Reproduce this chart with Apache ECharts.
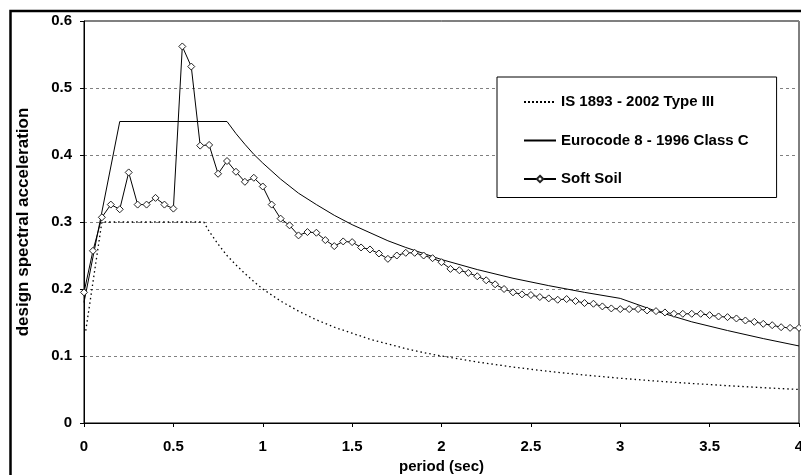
<!DOCTYPE html>
<html>
<head>
<meta charset="utf-8">
<script src="https://cdn.jsdelivr.net/npm/echarts@6/dist/echarts.min.js"></script>
<style>
html,body{margin:0;padding:0;background:#fff;}
#chart{width:801px;height:475px;}
</style>
</head>
<body>
<div id="chart"></div>
<script>
// IS 1893 - 2002 Type III
var isPeriod = [0.01, 0.1, 0.67, 0.7, 0.75, 0.8, 0.85, 0.9, 0.95, 1.0, 1.1, 1.2, 1.3, 1.4, 1.5, 1.6, 1.7, 1.8, 1.9, 2.0, 2.2, 2.4, 2.6, 2.8, 3.0, 3.2, 3.4, 3.6, 3.8, 4.0];
var isValue  = [0.138, 0.300, 0.300, 0.286, 0.267, 0.250, 0.236, 0.223, 0.211, 0.200, 0.182, 0.167, 0.154, 0.143, 0.134, 0.125, 0.118, 0.111, 0.105, 0.100, 0.091, 0.0835, 0.077, 0.0716, 0.0668, 0.0626, 0.059, 0.0557, 0.0527, 0.050];

// Eurocode 8 - 1996 Class C
var ecPeriod = [0, 0.2, 0.8, 0.85, 0.9, 0.95, 1.0, 1.1, 1.2, 1.3, 1.4, 1.5, 1.6, 1.7, 1.8, 1.9, 2.0, 2.2, 2.4, 2.6, 2.8, 3.0, 3.2, 3.4, 3.6, 3.8, 4.0];
var ecValue  = [0.18, 0.45, 0.45, 0.432, 0.416, 0.401, 0.388, 0.364, 0.343, 0.326, 0.310, 0.296, 0.284, 0.272, 0.262, 0.253, 0.244, 0.229, 0.216, 0.205, 0.195, 0.186, 0.167, 0.151, 0.138, 0.126, 0.115];

// Soft Soil
var ssPeriod = [0.00, 0.05, 0.10, 0.15, 0.20, 0.25, 0.30, 0.35, 0.40, 0.45,
                0.50, 0.55, 0.60, 0.65, 0.70, 0.75, 0.80, 0.85, 0.90, 0.95,
                1.00, 1.05, 1.10, 1.15, 1.20, 1.25, 1.30, 1.35, 1.40, 1.45,
                1.50, 1.55, 1.60, 1.65, 1.70, 1.75, 1.80, 1.85, 1.90, 1.95,
                2.00, 2.05, 2.10, 2.15, 2.20, 2.25, 2.30, 2.35, 2.40, 2.45,
                2.50, 2.55, 2.60, 2.65, 2.70, 2.75, 2.80, 2.85, 2.90, 2.95,
                3.00, 3.05, 3.10, 3.15, 3.20, 3.25, 3.30, 3.35, 3.40, 3.45,
                3.50, 3.55, 3.60, 3.65, 3.70, 3.75, 3.80, 3.85, 3.90, 3.95, 4.00];
var ssValue  = [0.195, 0.257, 0.307, 0.326, 0.319, 0.374, 0.326, 0.326, 0.336, 0.326,
                0.320, 0.562, 0.532, 0.414, 0.415, 0.372, 0.391, 0.375, 0.360, 0.366,
                0.353, 0.326, 0.305, 0.295, 0.280, 0.285, 0.284, 0.273, 0.264, 0.271,
                0.270, 0.262, 0.259, 0.253, 0.245, 0.250, 0.254, 0.254, 0.250, 0.246,
                0.240, 0.230, 0.228, 0.224, 0.219, 0.213, 0.207, 0.200, 0.195, 0.192,
                0.191, 0.188, 0.186, 0.184, 0.185, 0.182, 0.179, 0.178, 0.174, 0.171,
                0.170, 0.170, 0.170, 0.168, 0.167, 0.165, 0.163, 0.163, 0.163, 0.163,
                0.161, 0.159, 0.158, 0.156, 0.153, 0.151, 0.148, 0.146, 0.143, 0.142, 0.142];

var seriesNames = ['IS 1893 - 2002 Type III', 'Eurocode 8 - 1996 Class C', 'Soft Soil'];

function zip(xs, ys){ return xs.map(function(x, i){ return [x, ys[i]]; }); }

var FONT = "'Liberation Sans', Arial, sans-serif";
var chart = echarts.init(document.getElementById('chart'), null, {renderer: 'canvas'});
chart.setOption({
  animation: false,
  backgroundColor: '#fff',
  textStyle: {fontFamily: FONT, color: '#000'},
  graphic: [{
    type: 'rect', z: 100, silent: true,
    shape: {x: 10.5, y: 11, width: 900, height: 600},
    style: {fill: 'none', stroke: '#000', lineWidth: 2.5}
  }],
  grid: {left: 84, right: 2, top: 21, bottom: 52, show: true, borderColor: '#000', borderWidth: 1,
         backgroundColor: '#fff', containLabel: false, outerBoundsMode: 'none'},
  legend: {
    orient: 'vertical', left: 497, top: 77,
    data: [
      {name: seriesNames[0], itemStyle: {opacity: 0}, lineStyle: {width: 2, type: [2, 2]}},
      {name: seriesNames[1], itemStyle: {opacity: 0}},
      {name: seriesNames[2]}
    ],
    backgroundColor: '#fff', borderColor: '#000', borderWidth: 1,
    padding: [17.5, 28, 11, 26], itemGap: 23.5, itemWidth: 32, itemHeight: 8,
    textStyle: {fontFamily: FONT, fontWeight: 'bold', fontSize: 15, color: '#000'},
    selectedMode: false
  },
  xAxis: {
    type: 'value', min: 0, max: 4, interval: 0.5,
    name: 'period (sec)', nameLocation: 'middle', nameGap: 32,
    nameTextStyle: {fontFamily: FONT, fontWeight: 'bold', fontSize: 15, color: '#000'},
    axisLine: {show: true, lineStyle: {color: '#000', width: 1}},
    axisTick: {show: true, length: 4, lineStyle: {color: '#000'}},
    axisLabel: {fontFamily: FONT, fontWeight: 'bold', fontSize: 15, color: '#000', margin: 16, hideOverlap: false},
    splitLine: {show: false}
  },
  yAxis: {
    type: 'value', min: 0, max: 0.6, interval: 0.1,
    name: 'design spectral acceleration', nameLocation: 'middle', nameGap: 52, nameRotate: 90,
    nameTextStyle: {fontFamily: FONT, fontWeight: 'bold', fontSize: 17, color: '#000'},
    axisLine: {show: true, lineStyle: {color: '#000', width: 1}},
    axisTick: {show: true, length: 4, lineStyle: {color: '#000'}},
    axisLabel: {fontFamily: FONT, fontWeight: 'bold', fontSize: 15, color: '#000', margin: 12},
    splitLine: {show: true, lineStyle: {color: '#808080', type: [3, 3], width: 1}}
  },
  series: [
    {
      name: seriesNames[0], type: 'line', data: zip(isPeriod, isValue),
      symbol: 'none', showSymbol: false, z: 3,
      lineStyle: {color: '#000', width: 1.3, type: [1.5, 3]},
      itemStyle: {color: '#000'}
    },
    {
      name: seriesNames[1], type: 'line', data: zip(ecPeriod, ecValue),
      symbol: 'none', showSymbol: false, z: 3,
      lineStyle: {color: '#000', width: 1, type: 'solid'},
      itemStyle: {color: '#000'}
    },
    {
      name: seriesNames[2], type: 'line', data: zip(ssPeriod, ssValue),
      symbol: 'diamond', symbolSize: 7, showSymbol: true, z: 4,
      lineStyle: {color: '#000', width: 1},
      itemStyle: {color: '#fff', borderColor: '#222', borderWidth: 1}
    }
  ]
});
</script>
</body>
</html>
